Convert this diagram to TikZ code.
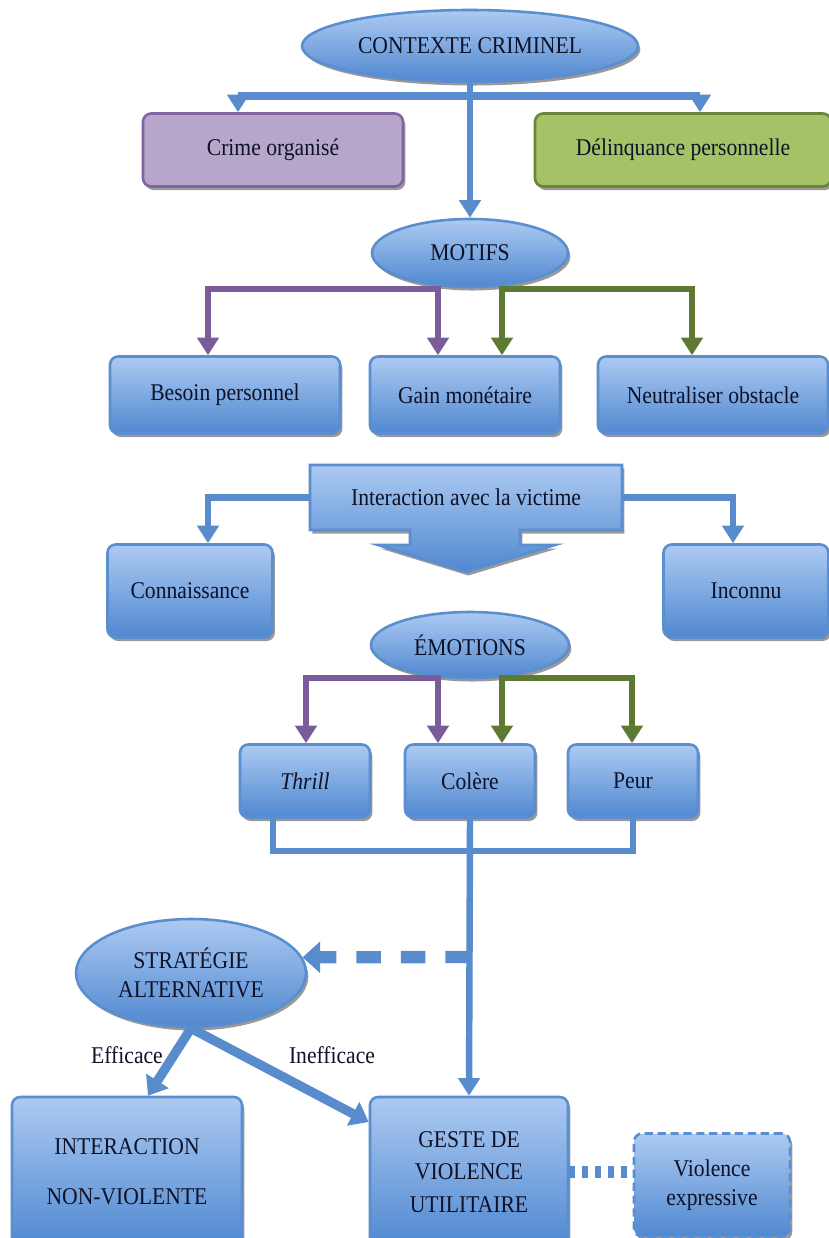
\documentclass[tikz,border=0pt]{standalone}
\usepackage{fontspec}
\setmainfont{Liberation Serif}[FakeStretch=0.9]
\usetikzlibrary{shapes.geometric,shadows,arrows.meta,calc}
\definecolor{hautbleu}{RGB}{172,202,242}
\definecolor{basbleu}{RGB}{80,136,208}
\definecolor{bordbleu}{RGB}{90,142,206}
\definecolor{lienbleu}{RGB}{88,140,204}
\definecolor{lienviolet}{RGB}{122,92,154}
\definecolor{lienvert}{RGB}{94,122,50}
\definecolor{fondviolet}{RGB}{182,166,202}
\definecolor{bordviolet}{RGB}{128,100,162}
\definecolor{fondvert}{RGB}{166,194,102}
\definecolor{bordvert}{RGB}{104,134,56}
\definecolor{encre}{RGB}{14,18,40}
\tikzset{
  ombre/.style={drop shadow={shadow xshift=2pt,shadow yshift=-3pt,opacity=0.4,fill=black}},
  texte/.style={text=encre,align=center,font=\fontsize{20.5}{25}\selectfont},
  boite/.style={texte,draw=bordbleu,line width=2.2pt,rounded corners=7pt,top color=hautbleu,bottom color=basbleu,ombre},
  bulle/.style={texte,ellipse,draw=bordbleu,line width=2.2pt,top color=hautbleu,bottom color=basbleu,ombre},
  tete/.style={-{Triangle[width=18pt,length=15pt]}},
  lien/.style={draw=lienbleu,line width=5.5pt,tete},
  lienviolet/.style={lien,draw=lienviolet},
  lienvert/.style={lien,draw=lienvert}
}
\begin{document}
\begin{tikzpicture}[x=0.03cm,y=-0.03cm]
  \useasboundingbox[fill=white] (0,0) rectangle (828,1238);
  \node[bulle,minimum width=10.08cm,minimum height=2.16cm] (ctx) at (470,46) {CONTEXTE CRIMINEL};
  \node[boite,draw=bordviolet,top color=fondviolet,bottom color=fondviolet,minimum width=7.8cm,minimum height=2.19cm] (crime) at (273,150) {Crime organisé};
  \node[boite,draw=bordvert,top color=fondvert,bottom color=fondvert,minimum width=8.88cm,minimum height=2.19cm] (delin) at (683,150) {Délinquance personnelle};
  \node[bulle,minimum width=5.88cm,minimum height=2.04cm] (motifs) at (470,253) {MOTIFS};
  \node[boite,minimum width=6.9cm,minimum height=2.31cm] (besoin) at (225,395) {Besoin personnel};
  \node[boite,minimum width=5.7cm,minimum height=2.31cm] (gain) at (465,395) {Gain monétaire};
  \node[boite,minimum width=6.9cm,minimum height=2.31cm] (neutr) at (713,395) {Neutraliser obstacle};
  \shade[draw=bordbleu,line width=2.2pt,top color=hautbleu,bottom color=basbleu,ombre]
    (310,465) -- (622,465) -- (622,530) -- (520,530) -- (520,545) -- (555,545) -- (466,572)
    -- (378,545) -- (410,545) -- (410,530) -- (310,530) -- cycle;
  \node[texte,minimum width=9.36cm,minimum height=1.95cm] (inter) at (466,497.5) {Interaction avec la victime};
  \node[boite,minimum width=4.95cm,minimum height=2.79cm] (conn) at (190,591) {Connaissance};
  \node[boite,minimum width=4.95cm,minimum height=2.79cm] (inconnu) at (746,591) {Inconnu};
  \node[bulle,minimum width=5.94cm,minimum height=1.98cm] (emo) at (470,645) {ÉMOTIONS};
  \node[boite,minimum width=3.9cm,minimum height=2.19cm] (thrill) at (305,781) {\textit{Thrill}};
  \node[boite,minimum width=3.9cm,minimum height=2.19cm] (colere) at (470,781) {Colère};
  \node[boite,minimum width=3.9cm,minimum height=2.19cm] (peur) at (633,781) {Peur};
  \node[bulle,minimum width=6.9cm,minimum height=3.24cm] (strat) at (191,973) {STRATÉGIE\\ALTERNATIVE};
  \node[boite,minimum width=6.9cm,minimum height=4.5cm] (nonviol) at (127,1172) {INTERACTION\\[18pt]NON-VIOLENTE};
  \node[boite,minimum width=5.94cm,minimum height=4.5cm] (geste) at (469,1172) {GESTE DE\\[3pt]VIOLENCE\\[3pt]UTILITAIRE};
  \node[boite,dashed,dash pattern=on 7pt off 4pt,minimum width=4.68cm,minimum height=3.09cm] (expr) at (712,1185) {Violence\\expressive};
  \node[texte] (eff) at (127,1055) {Efficace};
  \node[texte] (ineff) at (332,1055) {Inefficace};
  \coordinate (barre) at (470,96);
  \coordinate (mv) at (323,289);
  \coordinate (mg) at (597,289);
  \coordinate (ev) at (372,678);
  \coordinate (eg) at (567,678);
  \coordinate (coll) at (470,851);
  \coordinate (emb) at (470,957);
  \draw[lien] (ctx.south) -- (motifs.north);
  \draw[lien,line width=7pt] (barre) -| ($(crime.north)+(-35,0)$);
  \draw[lien,line width=7pt] (barre) -| ($(delin.north)+(17,0)$);
  \draw[lienviolet] (mv) -| ($(besoin.north)+(-17,0)$);
  \draw[lienviolet] (mv) -| ($(gain.north)+(-27,0)$);
  \draw[lienvert] (mg) -| ($(gain.north)+(37,0)$);
  \draw[lienvert] (mg) -| ($(neutr.north)+(-21,0)$);
  \draw[lien] (inter.west) -| ($(conn.north)+(18,0)$);
  \draw[lien] (inter.east) -| ($(inconnu.north)+(-13,0)$);
  \draw[lienviolet] (ev) -| ($(thrill.north)+(1,0)$);
  \draw[lienviolet] (ev) -| ($(colere.north)+(-32,0)$);
  \draw[lienvert] (eg) -| ($(colere.north)+(32,0)$);
  \draw[lienvert] (eg) -| ($(peur.north)+(-1,0)$);
  \draw[lien,-] ($(thrill.south)+(-32,0)$) |- (coll) -| (peur.south);
  \draw[lien] (colere.south) -- (geste.north);
  \draw[lien,line width=10.5pt,dash pattern=on 21pt off 17pt,-{Triangle[width=26pt,length=15pt]}] (emb) -- (strat.8);
  \draw[lien,line width=8pt,-{Triangle[width=22pt,length=15pt]}] (strat.south) -- ($(nonviol.north)+(21,0)$);
  \draw[lien,line width=8pt,-{Triangle[width=22pt,length=15pt]}] (strat.south) -- ($(geste.west)+(0,-50)$);
  \draw[lien,-,line width=10pt,dash pattern=on 5pt off 6pt] (geste.east) -- (expr.west |- geste.east);
\end{tikzpicture}
\end{document}
